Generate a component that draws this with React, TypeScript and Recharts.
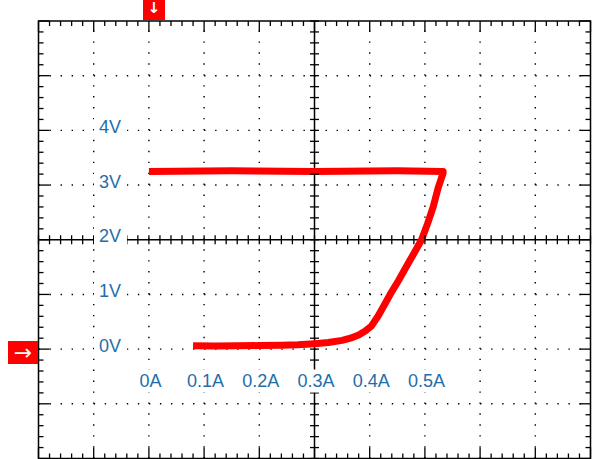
import { LineChart, Line, XAxis, YAxis, ReferenceLine, ReferenceArea } from 'recharts';

// trace: current (A) vs voltage (V), in drawing order
const currentA = [0.08, 0.12, 0.16, 0.2, 0.24, 0.27, 0.3, 0.325, 0.35, 0.365, 0.38, 0.392, 0.403, 0.415, 0.425, 0.437, 0.452, 0.466, 0.48, 0.494, 0.505, 0.515, 0.524, 0.533, 0.533, 0.45, 0.3, 0.15, 0.0];
const voltageV = [0.06, 0.055, 0.06, 0.065, 0.07, 0.08, 0.1, 0.12, 0.16, 0.2, 0.26, 0.33, 0.42, 0.6, 0.78, 1.0, 1.25, 1.5, 1.75, 2.0, 2.3, 2.6, 2.95, 3.22, 3.25, 3.26, 3.25, 3.26, 3.25];

const xLabelTicks = [0, 0.1, 0.2, 0.3, 0.4, 0.5];
const xLabels = ['0A', '0.1A', '0.2A', '0.3A', '0.4A', '0.5A'];
const yLabelTicks = [0, 1, 2, 3, 4];
const yLabels = ['0V', '1V', '2V', '3V', '4V'];

const xGrid = [-0.1, 0, 0.1, 0.2, 0.4, 0.5, 0.6, 0.7];
const yGrid = [-1, 0, 1, 3, 4, 5];
const xCenter = 0.3;
const yCenter = 2;

const X_DOMAIN = [-0.2, 0.8];
const Y_DOMAIN = [-2, 6];

// minor tick positions along each axis (5 per division)
const xMinor: number[] = [];
for (let i = 0; i <= 50; i++) xMinor.push(+(X_DOMAIN[0] + i * 0.02).toFixed(2));
const yMinor: number[] = [];
for (let i = 0; i <= 40; i++) yMinor.push(+(Y_DOMAIN[0] + i * 0.2).toFixed(1));

const W = 595;
const H = 459;
const margin = { top: 21, right: 4.5, bottom: 0.5, left: 38.5 };
const plotTop = margin.top;
const plotBottom = H - margin.bottom;
const plotLeft = margin.left;
const plotRight = W - margin.right;
const centerY = plotTop + ((Y_DOMAIN[1] - yCenter) / (Y_DOMAIN[1] - Y_DOMAIN[0])) * (plotBottom - plotTop);
const centerX = plotLeft + ((xCenter - X_DOMAIN[0]) / (X_DOMAIN[1] - X_DOMAIN[0])) * (plotRight - plotLeft);

const BLUE = '#1e6eaa';
const RED = '#ff0000';
const FONT = '"Liberation Sans", Arial, sans-serif';
const FS = 18;

const data = currentA.map((a, i) => ({ a, v: voltageV[i] }));

const near = (a: number, b: number) => Math.abs(a - b) < 1e-6;

// rough Arial advance widths, used for the white boxes behind labels
const textWidth = (s: string) =>
  s.split('').reduce((w, c) => w + (c === '.' ? 0.278 : c === 'A' || c === 'V' ? 0.667 : 0.556), 0) * FS;

const XTick = (props: any) => {
  const { x, payload } = props;
  const v = payload.value;
  const len = near(v * 10, Math.round(v * 10)) ? 11 : 5;
  return (
    <g stroke="#000" strokeWidth={1.3}>
      <line x1={x} x2={x} y1={plotTop} y2={plotTop + len} />
      <line x1={x} x2={x} y1={plotBottom} y2={plotBottom - len} />
      <line x1={x} x2={x} y1={centerY - 4.5} y2={centerY + 4.5} />
    </g>
  );
};

const YTick = (props: any) => {
  const { y, payload } = props;
  const v = payload.value;
  const len = near(v, Math.round(v)) ? 11 : 5;
  return (
    <g stroke="#000" strokeWidth={1.3}>
      <line x1={plotLeft} x2={plotLeft + len} y1={y} y2={y} />
      <line x1={plotRight} x2={plotRight - len} y1={y} y2={y} />
      <line x1={centerX - 4.5} x2={centerX + 4.5} y1={y} y2={y} />
    </g>
  );
};

const XLabelTick = (props: any) => {
  const { x, payload } = props;
  const li = xLabelTicks.findIndex((t) => near(t, payload.value));
  if (li < 0) return <g />;
  const s = xLabels[li];
  const w = textWidth(s);
  const base = 386.5;
  return (
    <g>
      <rect x={x + 1.5 - w / 2 - 5} y={base - 17} width={w + 10} height={23} fill="#fff" />
      <text x={x + 1.5} y={base} textAnchor="middle" fill={BLUE} fontSize={FS} fontFamily={FONT}>{s}</text>
    </g>
  );
};

const YLabelTick = (props: any) => {
  const { y, payload } = props;
  const li = yLabelTicks.findIndex((t) => near(t, payload.value));
  if (li < 0) return <g />;
  const s = yLabels[li];
  const w = textWidth(s);
  const base = y + 2.5;
  return (
    <g>
      <rect x={94} y={base - 17} width={w + 11} height={23} fill="#fff" />
      <text x={99} y={base} textAnchor="start" fill={BLUE} fontSize={FS} fontFamily={FONT}>{s}</text>
    </g>
  );
};

export default function App() {
  return (
    <div style={{ position: 'absolute', left: 0, top: 0, width: W, height: H, background: '#fff' }}>
      <LineChart width={W} height={H} data={data} margin={margin}>
        {xGrid.map((x) => (
          <ReferenceLine key={'gx' + x} x={x} stroke="#000" strokeWidth={1.4} strokeDasharray="1.4 9.54" />
        ))}
        {yGrid.map((y) => (
          <ReferenceLine key={'gy' + y} y={y} stroke="#000" strokeWidth={1.4} strokeDasharray="1.4 9.64" />
        ))}
        <ReferenceLine x={xCenter} stroke="#000" strokeWidth={1.5} />
        <ReferenceLine y={yCenter} stroke="#000" strokeWidth={1.5} />
        <ReferenceArea x1={X_DOMAIN[0]} x2={X_DOMAIN[1]} y1={Y_DOMAIN[0]} y2={Y_DOMAIN[1]}
          fill="none" fillOpacity={0} stroke="#000" strokeWidth={1.5} />

        <XAxis dataKey="a" type="number" domain={X_DOMAIN} ticks={xMinor} interval={0} mirror height={1}
          axisLine={false} tickLine={false} tick={XTick} allowDataOverflow />
        <YAxis type="number" domain={Y_DOMAIN} ticks={yMinor} interval={0} mirror width={1}
          axisLine={false} tickLine={false} tick={YTick} allowDataOverflow />
        <XAxis xAxisId="lbl" dataKey="a" type="number" domain={X_DOMAIN} ticks={xLabelTicks} interval={0} mirror height={1}
          axisLine={false} tickLine={false} tick={XLabelTick} allowDataOverflow />
        <YAxis yAxisId="lbl" type="number" domain={Y_DOMAIN} ticks={yLabelTicks} interval={0} mirror width={1}
          axisLine={false} tickLine={false} tick={YLabelTick} allowDataOverflow />

        <Line dataKey="v" stroke={RED} strokeWidth={7} dot={false} strokeLinejoin="round"
          strokeLinecap="butt" isAnimationActive={false} />
      </LineChart>
      <div style={{ position: 'absolute', left: 143, top: 0, width: 22, height: 20, background: RED, color: '#fff',
        fontFamily: '"DejaVu Sans", sans-serif', fontSize: 15, fontWeight: 'bold', lineHeight: '16px', textAlign: 'center' }}>↓</div>
      <div style={{ position: 'absolute', left: 8, top: 341, width: 30, height: 23, background: RED, color: '#fff',
        fontFamily: '"DejaVu Sans", sans-serif', fontSize: 22, lineHeight: '23px', textAlign: 'center' }}>→</div>
    </div>
  );
}
